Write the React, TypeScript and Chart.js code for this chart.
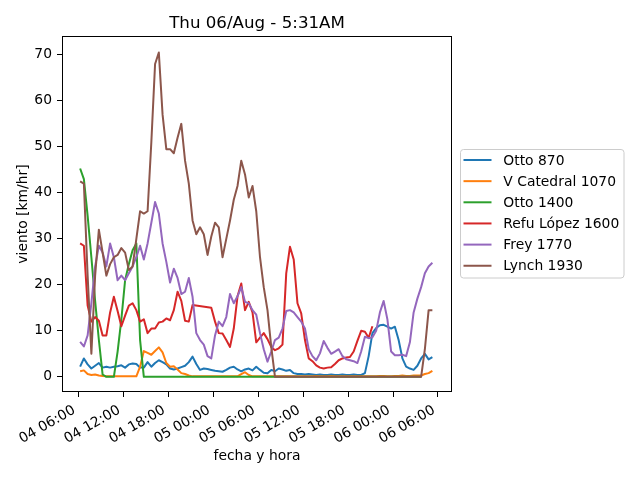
import { useEffect, useRef } from "react";
import { Chart, registerables, Plugin } from "chart.js";

Chart.register(...registerables);

const chartTitle = "Thu 06/Aug - 5:31AM";
const xTitle = "fecha y hora";
const yTitle = "viento [km/hr]";

const stationNames = ["Otto 870", "V Catedral 1070", "Otto 1400", "Refu López 1600", "Frey 1770", "Lynch 1930"];
const stationColors = ["#1f77b4", "#ff7f0e", "#2ca02c", "#d62728", "#9467bd", "#8c564b"];

// readings every half hour, hours counted from 04 00:00
const firstHour = 6.25;
const stepHours = 0.5;

const otto870 = [
  2.2, 4, 2.7, 1.8, 2.4, 3, 2, 2.2, 2, 2.2,
  2.3, 2.5, 2, 2.7, 2.9, 2.8, 2, 2, 3.2, 2.2,
  3, 3.6, 3.2, 2.7, 1.8, 1.6, 1.8, 2.1, 2.4, 3.2,
  4.4, 2.8, 1.5, 1.8, 1.7, 1.5, 1.3, 1.2, 1.1, 1.5,
  2, 2.2, 1.6, 1.2, 1.6, 1.8, 1.4, 2.2, 1.5, 0.9,
  0.8, 1.5, 1.2, 1.8, 1.6, 1.3, 1.5, 0.8, 0.6, 0.6,
  0.5, 0.6, 0.5, 0.4, 0.5, 0.4, 0.4, 0.5, 0.4, 0.4,
  0.5, 0.4, 0.4, 0.5, 0.4, 0.4, 0.8, 4.5, 9.5, 10.6,
  11.2, 11.3, 10.9, 10.5, 10.9, 8, 4, 2.2, 1.8, 1.5,
  2.4, 4, 5, 3.8, 4.3,
];

const vCatedral1070 = [
  1.2, 1.4, 0.6, 0.4, 0.5, 0.3, 0.2, 0.1, 0.1, 0.1,
  0.1, 0.1, 0.1, 0.1, 0.1, 0.1, 2.2, 5.6, 5.2, 4.8,
  5.6, 6.4, 5.3, 3, 2.2, 2.3, 1.6, 0.8, 0.6, 0.3,
  0.1, 0.1, 0.1, 0.1, 0.1, 0.1, 0.1, 0.1, 0.1, 0.1,
  0.1, 0.1, 0.1, 0.6, 1, 0.4, 0.1, 0.1, 0.1, 0.1,
  0.1, 0.1, 0.1, 0.1, 0.1, 0.1, 0.1, 0.1, 0.1, 0.1,
  0.1, 0.1, 0.1, 0.2, 0.1, 0.1, 0.1, 0.2, 0.1, 0.1,
  0.1, 0.1, 0.1, 0.1, 0.1, 0.1, 0.1, 0.1, 0.1, 0.1,
  0.2, 0.2, 0.1, 0.1, 0.2, 0.2, 0.3, 0.2, 0.2, 0.3,
  0.3, 0.3, 0.6, 0.8, 1.3,
];

const otto1400 = [
  45.3, 43, 35, 26, 16.5, 8, 0.5, 0, 0, 0,
  5.5, 12.5, 21, 24.5, 27.5, 29, 8, 0, 0, 0,
  0, 0, 0, 0, 0, 0, 0, 0, 0, 0,
  0, 0, 0, 0, 0, 0, 0, 0, 0, 0,
  0, 0, 0, 0, 0, 0, 0, 0, 0, 0,
  0, 0, 0, 0, 0, 0, 0, 0, 0, 0,
  0, 0, 0, 0, 0, 0, 0, 0, 0, 0,
  0, 0, 0, 0, 0, 0, 0, 0, 0, 0,
  0, 0, 0, 0, 0, 0, 0, 0, 0, 0,
  0, 0, null, null, null,
];

const refuLopez1600 = [
  29, 28.5, 15.5, 12, 13, 12.2, 9, 9, 14, 17.4,
  14.3, 11, 13.3, 15.5, 16, 14.5, 12, 12.5, 9.5, 10.5,
  10.5, 11.8, 12, 12.7, 12.3, 14.5, 18.5, 16.5, 12.2, 12,
  15.6, null, null, null, null, 15, 12, 9.5, 9.4, 8,
  6.5, 10.5, 17.5, 20.3, 14.5, 16.3, 14, 7.5, 8.5, 9.5,
  8.2, 6.5, 5.8, 6.2, 7, 22.5, 28.3, 25.5, 16, 13.8,
  8, 4, 3.4, 2.5, 2, 1.8, 2, 2.1, 2.8, 3.6,
  4, 4.2, 4.3, 5.5, 7.8, 10, 9.8, 8.5, 11, null,
  null, null, null, null, null, null, null, null, null, null,
  null, null, null, null, null,
];

const frey1770 = [
  7.6, 6.6, 9, 16, 24, 28.5, 27, 24, 29, 26,
  21, 22, 21, 22.5, 24, 26, 28.5, 25.5, 29, 33.5,
  38, 35.5, 29, 25, 20.5, 23.5, 21.5, 18, 18.5, 21.5,
  17.4, 9.5, 8, 7, 4.5, 4, 9, 12, 11, 13,
  18, 16, 17.5, 19.5, 16.3, 16, 14.5, 13.5, 9.5, 6,
  3.3, 5.5, 8, 8.5, 10.5, 14.3, 14.5, 14, 13, 12,
  10.5, 6, 4.5, 3.6, 5.1, 7.8, 6.3, 5, 5.5, 6,
  4.5, 3.8, 3.6, 3.4, 3, 5.5, 8.7, 8.4, 8.6, 10,
  14, 16.5, 12.5, 5.5, 4.7, 4.7, 4.8, 4.5, 7.5, 14,
  17, 19.5, 22.5, 24, 24.8,
];

const lynch1930 = [
  42.5, 42, 22, 5, 22, 32, 27, 22, 24.5, 26,
  26.5, 28, 27, 23.2, 24, 30, 36, 35.5, 36, 51,
  68, 70.5, 57, 49.5, 49.5, 48.6, 52, 55, 47, 42,
  34, 31, 32.5, 31, 26.5, 30.5, 33.5, 32.5, 26, 30,
  34, 38.5, 41.5, 47, 44, 39, 41.5, 36, 26, 19.5,
  14.5, 6.5, 0, 0, 0, 0, 0, 0, 0, 0,
  0, 0, 0, 0, 0, 0, 0, 0, 0, 0,
  0, 0, 0, 0, 0, 0, 0, 0, 0, 0,
  0, 0, 0, 0, 0, 0, 0, 0, 0, 0,
  0, 0, 6, 14.5, 14.5,
];

const stationValues = [otto870, vCatedral1070, otto1400, refuLopez1600, frey1770, lynch1930];
const hours = otto870.map((_, i) => firstHour + i * stepHours);

const fontFamily = "'DejaVu Sans', sans-serif";
const tickFont = { family: fontFamily, size: 13.89 };

function hourLabel(h: number) {
  const day = 4 + Math.floor(h / 24);
  const hh = Math.round(h % 24);
  return `${String(day).padStart(2, "0")} ${String(hh).padStart(2, "0")}:00`;
}

// box around the axes, title and legend drawn like matplotlib
const framePlugin: Plugin<"line"> = {
  id: "frame",
  afterDraw(chart) {
    const { ctx, chartArea } = chart;
    const { left, top, right, bottom } = chartArea;
    ctx.save();
    ctx.strokeStyle = "#000";
    ctx.lineWidth = 1;
    ctx.strokeRect(Math.round(left) + 0.5, Math.round(top) + 0.5, Math.round(right - left) - 1, Math.round(bottom - top) - 1);

    ctx.fillStyle = "#000";
    ctx.font = `16.67px ${fontFamily}`;
    ctx.textAlign = "center";
    ctx.textBaseline = "alphabetic";
    ctx.fillText(chartTitle, (left + right) / 2, top - 8.3);

    // legend
    const lx = 460.5, ly = 149.5, lw = 163.5, lh = 128.5;
    ctx.beginPath();
    ctx.roundRect(lx, ly, lw, lh, 3);
    ctx.fillStyle = "rgba(255,255,255,0.8)";
    ctx.fill();
    ctx.strokeStyle = "#cccccc";
    ctx.stroke();
    ctx.font = `13.89px ${fontFamily}`;
    ctx.textAlign = "left";
    ctx.textBaseline = "middle";
    chart.data.datasets.forEach((ds, i) => {
      const y = 160 + i * 21.15;
      ctx.beginPath();
      ctx.moveTo(463.5, y);
      ctx.lineTo(491.5, y);
      ctx.strokeStyle = ds.borderColor as string;
      ctx.lineWidth = 2;
      ctx.stroke();
      ctx.fillStyle = "#000";
      ctx.fillText(String(ds.label), 503.3, y + 1);
    });
    ctx.restore();
  },
};

export default function App() {
  const canvasRef = useRef<HTMLCanvasElement>(null);
  const chartRef = useRef<Chart | null>(null);

  useEffect(() => {
    document.body.style.margin = "0";
    if (!canvasRef.current) return;
    if (chartRef.current) chartRef.current.destroy();

    const datasets = stationNames.map((name, s) => ({
      label: name,
      data: hours.map((h, i) => ({ x: h, y: stationValues[s][i] })),
      borderColor: stationColors[s],
      backgroundColor: stationColors[s],
      borderWidth: 2,
      pointRadius: 0,
      tension: 0,
      borderJoinStyle: "round" as const,
      spanGaps: s === 3,
      order: stationNames.length - s,
    }));

    chartRef.current = new Chart(canvasRef.current, {
      type: "line",
      data: { datasets },
      plugins: [framePlugin],
      options: {
        animation: false,
        responsive: false,
        layout: { padding: { left: 0, top: 36, right: 188, bottom: 0 } },
        plugins: {
          legend: { display: false },
          title: { display: false },
          tooltip: { enabled: false },
        },
        scales: {
          x: {
            type: "linear",
            min: 3.83,
            max: 55.87,
            afterFit: (scale) => {
              scale.height = 88;
            },
            border: { display: false },
            grid: { display: true, drawOnChartArea: false, drawTicks: true, tickLength: 5, color: "#000", lineWidth: 1 },
            ticks: {
              stepSize: 6,
              includeBounds: false,
              autoSkip: false,
              minRotation: 30,
              maxRotation: 30,
              padding: 5,
              labelOffset: -4,
              color: "#000",
              font: tickFont,
              callback: (v) => hourLabel(Number(v)),
            },
            title: { display: true, text: xTitle, color: "#000", font: tickFont, padding: { top: 0, bottom: 15 } },
          },
          y: {
            type: "linear",
            min: -3.3,
            max: 74.1,
            afterFit: (scale) => {
              scale.width = 62;
            },
            border: { display: false },
            grid: { display: true, drawOnChartArea: false, drawTicks: true, tickLength: 5, color: "#000", lineWidth: 1 },
            ticks: { stepSize: 10, includeBounds: false, padding: 5, color: "#000", font: tickFont },
            title: { display: true, text: yTitle, color: "#000", font: tickFont, padding: { top: 15, bottom: 0 } },
          },
        },
      },
    });

    return () => {
      if (chartRef.current) {
        chartRef.current.destroy();
        chartRef.current = null;
      }
    };
  }, []);

  return (
    <div style={{ width: 640, height: 480 }}>
      <canvas ref={canvasRef} width={640} height={480} />
    </div>
  );
}
